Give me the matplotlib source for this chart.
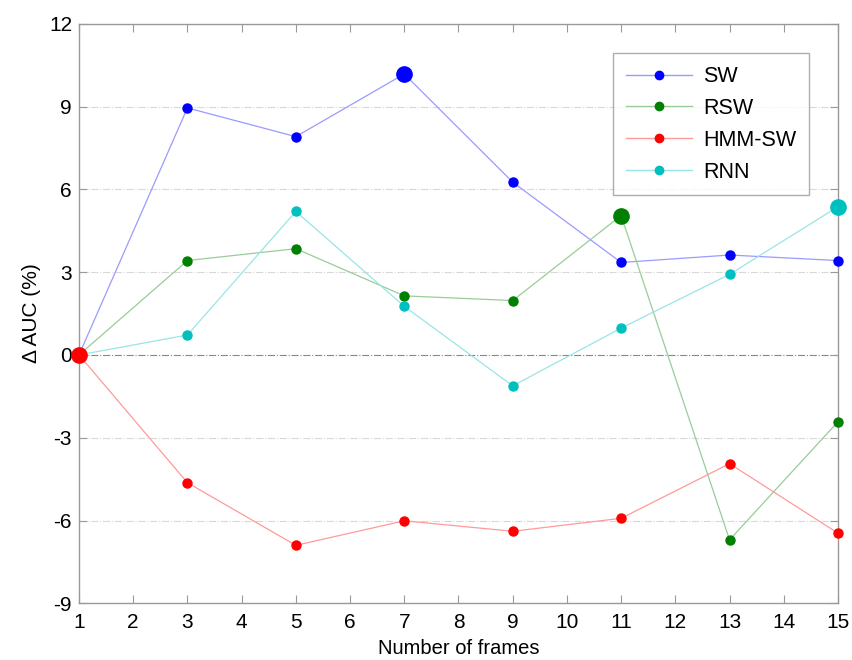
import matplotlib.pyplot as plt
import numpy as np

plt.rcParams['font.family'] = ['Liberation Sans', 'DejaVu Sans']
plt.rcParams['axes.unicode_minus'] = False

frames = [1, 3, 5, 7, 9, 11, 13, 15]
sw = [0.0, 8.95, 7.91, 10.18, 6.26, 3.35, 3.62, 3.42]
rsw = [0.0, 3.42, 3.85, 2.14, 1.97, 5.05, -6.70, -2.42]
hmm_sw = [0.0, -4.63, -6.90, -6.01, -6.39, -5.92, -3.94, -6.46]
rnn = [0.0, 0.72, 5.20, 1.76, -1.12, 0.97, 2.92, 5.37]

names = ['SW', 'RSW', 'HMM-SW', 'RNN']
colors = ['#0000ff', '#008000', '#ff0000', '#00bfbf']
line_colors = ['#9a9aff', '#99cc99', '#ff9a9a', '#99e5e5']

fig = plt.figure(figsize=(8.53, 6.6), dpi=100)
ax = fig.add_axes([0.0926, 0.0859, 0.8898, 0.8781])

for vals, name, c, lc in zip([sw, rsw, hmm_sw, rnn], names, colors, line_colors):
    ax.plot(frames, vals, '-', color=lc, lw=0.9, zorder=2)
    ax.plot(frames, vals, 'o', color=c, ms=6.5, mec=c, zorder=3, clip_on=False)
    # highlight the best value of each method
    i = int(np.argmax(vals))
    ax.plot(frames[i], vals[i], 'o', color=c, ms=11, mec=c, zorder=4, clip_on=False)
    ax.plot([], [], '-o', color=lc, mfc=c, mec=c, ms=6, lw=1.0, label=name)

ax.set_xlim(1, 15)
ax.set_ylim(-9, 12)
ax.set_xticks(range(1, 16))
ax.set_yticks(range(-9, 13, 3))
for y in range(-6, 12, 3):
    if y == 0:
        ax.axhline(0, color='#888888', lw=0.8, ls='-.', zorder=1)
    else:
        ax.axhline(y, color='#d8d8d8', lw=0.8, ls='-.', zorder=1)

for s in ax.spines.values():
    s.set_color('#999999')
    s.set_linewidth(1.0)
ax.tick_params(direction='in', length=6, color='#999999', top=True, right=True,
               labelsize=15)
ax.tick_params(axis='x', pad=7)
ax.tick_params(axis='y', pad=5)

ax.set_xlabel('Number of frames', fontsize=14.5, labelpad=5)
ax.set_ylabel('Δ AUC (%)', fontsize=15, labelpad=6)

leg = ax.legend(loc='upper right', bbox_to_anchor=(0.962, 0.949), fontsize=15.5,
                frameon=True, fancybox=False, edgecolor='#999999',
                handlelength=3.1, borderpad=0.6, labelspacing=0.5,
                handletextpad=0.5, borderaxespad=0.0)
leg.get_frame().set_linewidth(1.0)

fig.savefig('out.png', dpi=100)
